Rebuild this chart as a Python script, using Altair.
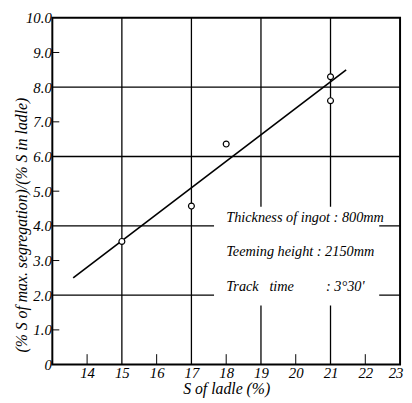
import altair as alt
import pandas as pd

# data points
pt_x = [15, 17, 18, 21, 21]
pt_y = [3.55, 4.57, 6.36, 8.30, 7.61]

# regression line endpoints
line_x = [13.6, 21.45]
line_y = [2.5, 8.5]

# grid lines
xgrid = [15, 17, 19, 21]
ygrid = [2, 4, 6, 8]
# inner minor ticks
xminor = [14, 16, 18, 20, 22]
yminor = [1, 3, 5, 7, 9]

# tick label values
xticks = [14, 15, 16, 17, 18, 19, 20, 21, 22, 23]
yticks = [0, 1, 2, 3, 4, 5, 6, 7, 8, 9, 10]

NB = "\u00a0"
notes = ["Thickness of ingot : 800mm",
         "Teeming height : 2150mm",
         "Track" + NB * 3 + "time" + NB * 9 + ": 3°30'"]
note_y = [4.23, 3.24, 2.24]
note_x = [18.0, 18.0, 18.0]
box_x = [17.65]
box_x2 = [22.4]
box_y = [1.7]
box_y2 = [4.55]

FONT = "Liberation Sans Narrow"

xs = alt.Scale(domain=[13, 23], nice=False, zero=False)
ys = alt.Scale(domain=[0, 10], nice=False, zero=False)

xaxis = alt.Axis(values=xticks, labelFlush=True, labelFlushOffset=3,
                 title="S  of  ladle  (%)", titleFontSize=16, titlePadding=0)
yaxis = alt.Axis(values=yticks, labelFlush=False,
                 labelExpr="datum.value == 0 ? '0' : format(datum.value, '.1f')",
                 title="(% S of max. segregation)/(% S in ladle)",
                 titleFontSize=16, titleX=-23, titleY=210)

base = alt.Chart(pd.DataFrame({"x": pt_x, "y": pt_y}))

vgrid = alt.Chart(pd.DataFrame({"x": xgrid})).mark_rule(color="black", strokeWidth=1.3).encode(
    x=alt.X("x:Q", scale=xs, axis=xaxis))
hgrid = alt.Chart(pd.DataFrame({"y": ygrid})).mark_rule(color="black", strokeWidth=1.3).encode(
    y=alt.Y("y:Q", scale=ys, axis=yaxis))

xm = alt.Chart(pd.DataFrame({"x": xminor, "y0": [0] * 5, "y1": [0.3] * 5})).mark_rule(
    color="black", strokeWidth=1).encode(x=alt.X("x:Q", scale=xs, axis=xaxis),
                                         y=alt.Y("y0:Q", scale=ys, axis=yaxis), y2="y1:Q")
ym = alt.Chart(pd.DataFrame({"y": yminor, "x0": [13] * 5, "x1": [13.2] * 5})).mark_rule(
    color="black", strokeWidth=1).encode(y=alt.Y("y:Q", scale=ys, axis=yaxis),
                                         x=alt.X("x0:Q", scale=xs, axis=xaxis), x2="x1:Q")

box = alt.Chart(pd.DataFrame({"x": box_x, "x2": box_x2, "y": box_y, "y2": box_y2})).mark_rect(
    color="white").encode(x=alt.X("x:Q", scale=xs, axis=xaxis), x2="x2:Q",
                          y=alt.Y("y:Q", scale=ys, axis=yaxis), y2="y2:Q")

txt = alt.Chart(pd.DataFrame({"x": note_x, "y": note_y, "t": notes})).mark_text(
    align="left", baseline="middle", font=FONT, fontStyle="italic", fontSize=14.5, color="black").encode(
    x=alt.X("x:Q", scale=xs, axis=xaxis), y=alt.Y("y:Q", scale=ys, axis=yaxis), text="t:N")

line = alt.Chart(pd.DataFrame({"x": line_x, "y": line_y})).mark_line(
    color="black", strokeWidth=1.6).encode(x=alt.X("x:Q", scale=xs, axis=xaxis),
                                          y=alt.Y("y:Q", scale=ys, axis=yaxis))

pts = base.mark_point(shape="circle", size=36, filled=True, fill="white", stroke="black",
                      strokeWidth=1.2, opacity=1).encode(
    x=alt.X("x:Q", scale=xs, axis=xaxis), y=alt.Y("y:Q", scale=ys, axis=yaxis))

chart = alt.layer(vgrid, hgrid, xm, ym, box, txt, line, pts).properties(
    width=353, height=352,
    background="white",
    autosize=alt.AutoSizeParams(type="none"),
    padding={"left": 45, "top": 7, "right": 4, "bottom": 32},
).configure_view(stroke="black", strokeWidth=2).configure_axis(
    grid=False, ticks=False, domain=False, labelOverlap=False,
    labelFont=FONT, labelFontStyle="italic", labelFontSize=15, labelColor="black",
    labelPadding=1, titleFont=FONT, titleFontStyle="italic", titleFontWeight="normal",
    titleColor="black",
)

chart.save("out.html", embed_options={"renderer": "svg", "actions": False})
